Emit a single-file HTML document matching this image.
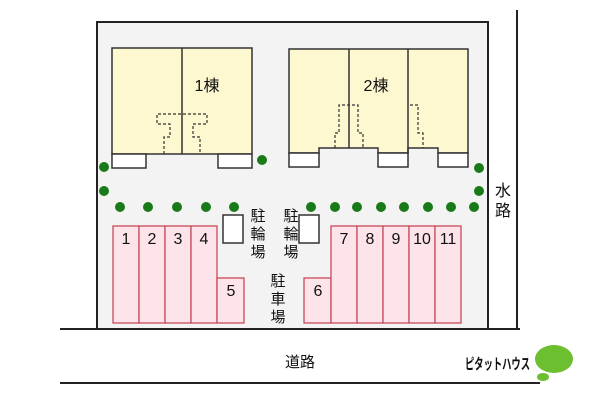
<!DOCTYPE html>
<html><head><meta charset="utf-8"><style>
body{margin:0;background:#fff}
svg text{font-family:"Liberation Sans","Noto Sans CJK JP",sans-serif;fill:#111}
</style></head><body>
<svg width="600" height="400" xmlns="http://www.w3.org/2000/svg">
<rect x="97" y="22" width="391" height="307" fill="#f3f3f3" stroke="#222" stroke-width="2"/>
<line x1="517" y1="10" x2="517" y2="329" stroke="#222" stroke-width="2"/>
<line x1="60" y1="329" x2="520" y2="329" stroke="#222" stroke-width="2"/>
<line x1="60" y1="383" x2="540" y2="383" stroke="#222" stroke-width="2"/>
<g stroke="#333" stroke-width="1.5">
<rect x="112" y="48" width="140" height="106" fill="#fdf8cf"/>
<line x1="182" y1="48" x2="182" y2="154"/>
<rect x="112" y="154" width="34" height="14" fill="#fff"/>
<rect x="218" y="154" width="34" height="14" fill="#fff"/>
<path d="M289 49H468V153H438V148H408V153H378V148H319V153H289Z" fill="#fdf8cf"/>
<line x1="349" y1="49" x2="349" y2="148"/>
<line x1="408" y1="49" x2="408" y2="153"/>
<rect x="289" y="153" width="30" height="14" fill="#fff"/>
<rect x="378" y="153" width="30" height="14" fill="#fff"/>
<rect x="438" y="153" width="30" height="14" fill="#fff"/>
</g>
<g stroke="#333" stroke-width="1.2" stroke-dasharray="3,2" fill="none">
<path d="M164 154V137H170V124H157V114H207V124H193V137H200V154"/>
<path d="M335 148V133H339V105H358V133H363V148"/>
<path d="M410 105H418V133H423V148"/>
</g>
<g fill="#1a7a1a">
<circle cx="104" cy="167" r="5"/><circle cx="104" cy="191" r="5"/><circle cx="262" cy="160" r="5"/>
<circle cx="120" cy="207" r="5"/><circle cx="148" cy="207" r="5"/><circle cx="177" cy="207" r="5"/><circle cx="206" cy="207" r="5"/><circle cx="234" cy="207" r="5"/>
<circle cx="311" cy="207" r="5"/><circle cx="335" cy="207" r="5"/><circle cx="357" cy="207" r="5"/><circle cx="381" cy="207" r="5"/><circle cx="404" cy="207" r="5"/><circle cx="428" cy="207" r="5"/><circle cx="451" cy="207" r="5"/><circle cx="474" cy="207" r="5"/>
<circle cx="479" cy="168" r="5"/><circle cx="479" cy="191" r="5"/>
</g>
<g stroke="#333" stroke-width="1.5" fill="#fff">
<rect x="223" y="215" width="20" height="28"/>
<rect x="299" y="215" width="20" height="28"/>
</g>
<g fill="#fde3ea" stroke="#c94a5a" stroke-width="1.3">
<rect x="113" y="226" width="26" height="97"/><rect x="139" y="226" width="26" height="97"/><rect x="165" y="226" width="26" height="97"/><rect x="191" y="226" width="26" height="97"/>
<rect x="217" y="278" width="27" height="45"/>
<rect x="304" y="278" width="27" height="45"/>
<rect x="331" y="226" width="26" height="97"/><rect x="357" y="226" width="26" height="97"/><rect x="383" y="226" width="26" height="97"/><rect x="409" y="226" width="26" height="97"/><rect x="435" y="226" width="26" height="97"/>
</g>
<g font-size="16" text-anchor="middle">
<text x="126" y="244">1</text><text x="152" y="244">2</text><text x="178" y="244">3</text><text x="204" y="244">4</text>
<text x="231" y="296">5</text><text x="318" y="296">6</text>
<text x="344" y="244">7</text><text x="370" y="244">8</text><text x="396" y="244">9</text><text x="422" y="244">10</text><text x="448" y="244">11</text>
<text x="207" y="91">1棟</text><text x="376" y="91">2棟</text>
</g>
<g font-size="15" text-anchor="middle">
<text x="258" y="221">駐</text><text x="258" y="239">輪</text><text x="258" y="257">場</text>
<text x="291" y="221">駐</text><text x="291" y="239">輪</text><text x="291" y="257">場</text>
<text x="278" y="286">駐</text><text x="278" y="304">車</text><text x="278" y="322">場</text>
<text x="503" y="196" font-size="16">水</text><text x="503" y="216" font-size="16">路</text>
<text x="300" y="367">道路</text>
</g>
<text x="465" y="369" font-size="15" font-weight="bold" textLength="65" lengthAdjust="spacingAndGlyphs">ピタットハウス</text>
<ellipse cx="554" cy="359" rx="19" ry="14" fill="#6cbf2e"/>
<ellipse cx="543" cy="377" rx="6" ry="4" fill="#6cbf2e"/>
</svg>
</body></html>
